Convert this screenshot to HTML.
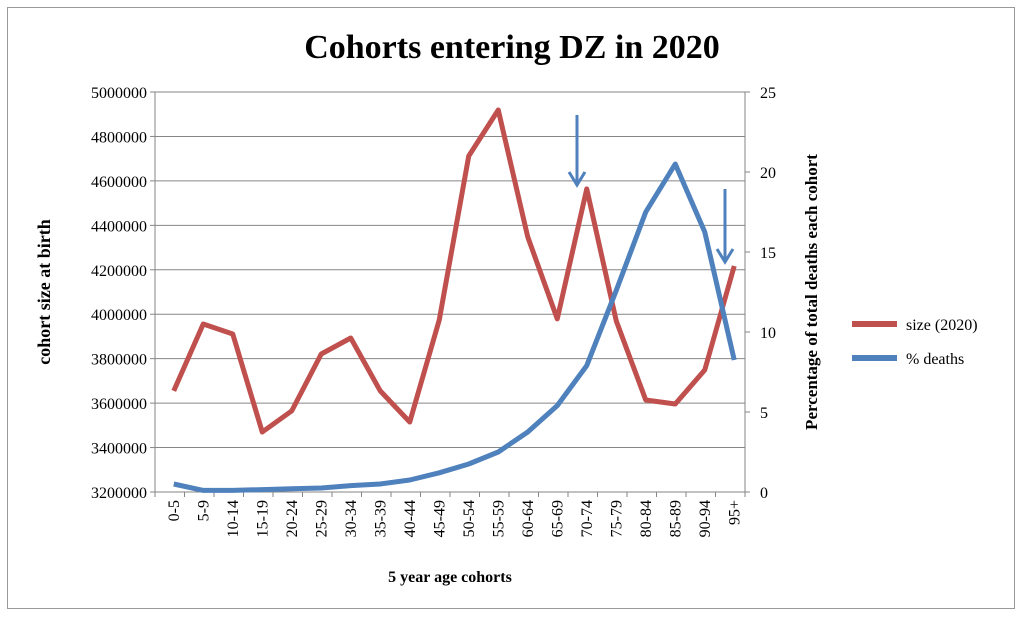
<!DOCTYPE html>
<html><head><meta charset="utf-8"><style>
body{margin:0;background:#fff;width:1024px;height:617px;overflow:hidden}
svg text{font-family:"Liberation Serif",serif}
</style></head><body>
<svg id="chart" width="1024" height="617" xmlns="http://www.w3.org/2000/svg">
<rect x="7.5" y="7.5" width="1007" height="601" fill="#fff" stroke="#999" stroke-width="1"/>
<text x="512" y="58" text-anchor="middle" font-size="34" font-weight="bold">Cohorts entering DZ in 2020</text>
<g id="grid"></g><g id="axes"></g><g id="series"></g>
<g stroke="#4F81BD" stroke-width="3" fill="none"><line x1="577" y1="115" x2="577" y2="182"/><polyline points="569,172 577,185 585,172"/></g>
<g stroke="#4F81BD" stroke-width="3" fill="none"><line x1="725" y1="189" x2="725" y2="259"/><polyline points="717,249 725,262 733,249"/></g>
<text transform="translate(50,292) rotate(-90)" text-anchor="middle" font-size="18" font-weight="bold">cohort size at birth</text>
<text transform="translate(817,292) rotate(-90)" text-anchor="middle" font-size="17" font-weight="bold">Percentage of total deaths each cohort</text>
<text x="450" y="582" text-anchor="middle" font-size="16" font-weight="bold">5 year age cohorts</text>
<g><line x1="852" y1="324" x2="897" y2="324" stroke="#C0504D" stroke-width="6"/><text x="906" y="330" font-size="16">size (2020)</text></g>
<g><line x1="852" y1="358" x2="897" y2="358" stroke="#4F81BD" stroke-width="6"/><text x="906" y="364" font-size="16">% deaths</text></g>
</svg>
<script>
const categories=["0-5","5-9","10-14","15-19","20-24","25-29","30-34","35-39","40-44","45-49","50-54","55-59","60-64","65-69","70-74","75-79","80-84","85-89","90-94","95+"];
const sizeValues=[3655000,3956000,3911000,3470000,3565000,3821000,3893000,3655000,3515000,3974000,4712000,4919000,4348000,3979000,4564000,3970000,3614000,3596000,3749000,4217000];
const deathValues=[0.5,0.1,0.1,0.15,0.2,0.25,0.4,0.5,0.75,1.2,1.75,2.5,3.75,5.4,7.9,12.6,17.5,20.5,16.25,8.25];
const leftTicks=[3200000,3400000,3600000,3800000,4000000,4200000,4400000,4600000,4800000,5000000];
const rightTicks=[0,5,10,15,20,25];
const L=155,R=745,T=92,B=492,NS="http://www.w3.org/2000/svg";
const bw=(R-L)/categories.length;
const xs=i=>L+4+bw*(i+0.5);
const yl=v=>B-(v-3200000)/1800000*(B-T);
const yr=v=>B-v/25*(B-T);
function mk(t,a,p){const e=document.createElementNS(NS,t);for(const k in a)e.setAttribute(k,a[k]);p.appendChild(e);return e;}
const grid=document.getElementById('grid'),axes=document.getElementById('axes'),ser=document.getElementById('series');
leftTicks.forEach(v=>{const y=yl(v);
const g=mk('line',{x1:L,x2:R,y1:y,y2:y,stroke:'#868686','stroke-width':1},grid);


mk('line',{x1:L-5,x2:L,y1:y,y2:y,stroke:'#868686'},axes);
const t=mk('text',{x:L-8,y:y+6,'text-anchor':'end','font-size':16},axes);t.textContent=v;

});
rightTicks.forEach(v=>{const y=yr(v);
mk('line',{x1:R,x2:R+5,y1:y,y2:y,stroke:'#868686'},axes);
const t=mk('text',{x:R+15,y:y+6,'font-size':16},axes);t.textContent=v;

});
mk('line',{x1:L,x2:L,y1:T,y2:B,stroke:'#868686'},axes);
mk('line',{x1:R,x2:R,y1:T,y2:B,stroke:'#868686'},axes);
categories.forEach((c,i)=>{const x=xs(i);
mk('line',{x1:L+bw*i,x2:L+bw*i,y1:B,y2:B+5,stroke:'#868686'},axes);
const t=mk('text',{transform:`translate(${x+5},${B+8}) rotate(-90)`,'text-anchor':'end','font-size':16},axes);t.textContent=c;

});
mk('line',{x1:R,x2:R,y1:B,y2:B+5,stroke:'#868686'},axes);
const p1=mk('polyline',{points:sizeValues.map((v,i)=>xs(i)+','+yl(v)).join(' '),fill:'none',stroke:'#C0504D','stroke-width':5,'stroke-linejoin':'round'},ser);


const p2=mk('polyline',{points:deathValues.map((v,i)=>xs(i)+','+yr(v)).join(' '),fill:'none',stroke:'#4F81BD','stroke-width':5,'stroke-linejoin':'round'},ser);


</script>
</body></html>
